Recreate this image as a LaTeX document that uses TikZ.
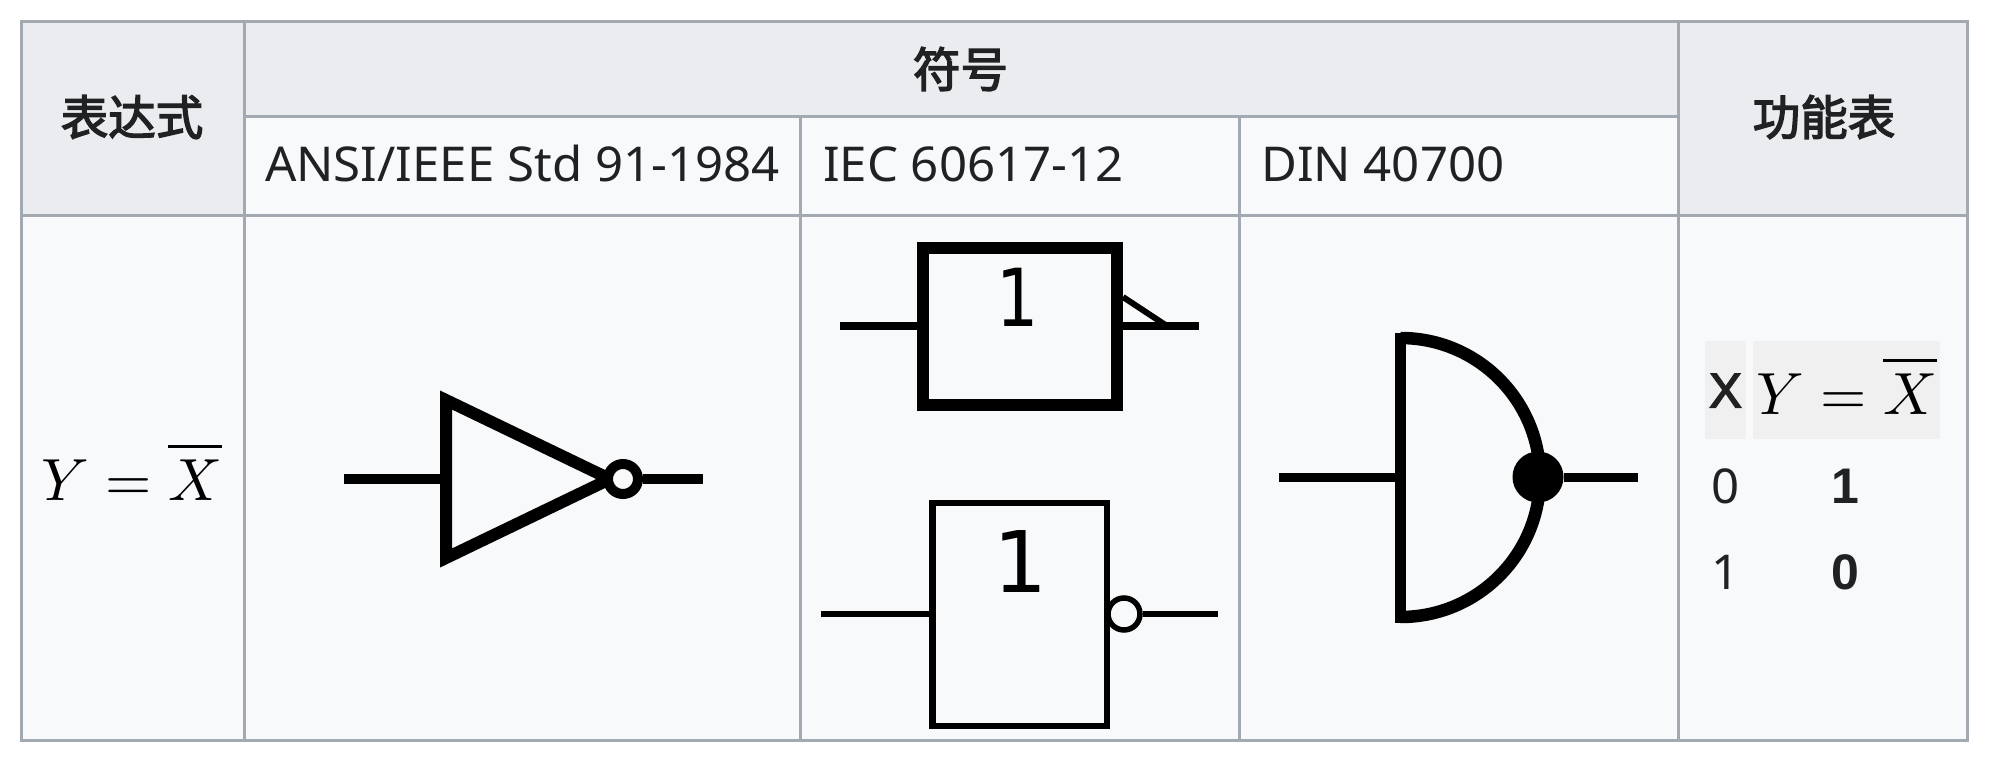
\documentclass[tikz,border=0pt]{standalone}
\usepackage{graphicx}
\usepackage{fontspec}
\setmainfont{Noto Sans}[FakeStretch=1.024]
\newfontfamily\cjk{Noto Sans CJK SC}[FakeBold=3]
\newfontfamily\djv{DejaVu Sans}
\newfontfamily\nsb{Liberation Sans Bold}
\newfontfamily\nsm{Liberation Sans}[FakeBold=3]
\newcommand{\fsz}[1]{\fontsize{#1}{#1}\selectfont}
\newcommand{\notx}{\scalebox{5.95}{$Y=\overline{X\rule{0pt}{7.6pt}}$}}
\definecolor{hd}{HTML}{EAECF0}
\definecolor{bd}{HTML}{F8F9FA}
\definecolor{bl}{HTML}{A2A9B1}
\definecolor{tx}{HTML}{202122}
\definecolor{sub}{HTML}{F0F0F0}
\tikzset{
  grid line/.style={draw=bl,line width=3pt},
  hcell/.style={font=\cjk\fsz{47.5},text=tx,inner sep=0pt,anchor=center},
  ctext/.style={font=\fsz{48},text=tx,inner sep=0pt,anchor=base west},
  vtext/.style={font=\fsz{48},text=tx,inner sep=0pt,anchor=base},
  btext/.style={font=\nsb\fsz{50},text=tx,inner sep=0pt,anchor=base},
  mathtext/.style={text=black,inner sep=0pt,anchor=base west},
  wire/.style={draw=black,line cap=butt},
  bubble/.style={circle,draw=black,fill=bd,inner sep=0pt},
  gatebox/.style={rectangle,draw=black,inner sep=0pt},
  dig/.style={font=\djv\fsz{85},text=black,inner sep=0pt,anchor=base}
}
\begin{document}
\begin{tikzpicture}[x=1pt,y=-1pt]
\useasboundingbox (0,0) rectangle (2000,763);
\fill[white] (0,0) rectangle (2000,763);
% cell backgrounds
\fill[bd] (21,21) rectangle (1967,740);
\fill[hd] (21,21) rectangle (244,215);
\fill[hd] (244,21) rectangle (1678,116);
\fill[hd] (1678,21) rectangle (1967,215);
% grid
\draw[grid line] (21,21) rectangle (1967,740);
\draw[grid line] (244,21) -- (244,740);
\draw[grid line] (1678,21) -- (1678,740);
\draw[grid line] (800.5,116) -- (800.5,740);
\draw[grid line] (1239.5,116) -- (1239.5,740);
\draw[grid line] (244,116) -- (1678,116);
\draw[grid line] (21,215) -- (1967,215);
% header text
\node[hcell] (hexpr) at (132,117) {表达式};
\node[hcell] (hsym) at (960.5,69) {符号};
\node[hcell] (hfun) at (1824,117) {功能表};
\node[ctext] (ansi) at (265,181) {ANSI/IEEE Std 91-1984};
\node[ctext] (iec) at (823,181) {IEC 60617-12};
\node[ctext] (din) at (1261,181) {DIN 40700};
% expression
\node[mathtext] (expr) at (41,500) {\notx};
% ANSI gate
\coordinate (a1) at (446,400);
\coordinate (a2) at (446,558);
\coordinate (a3) at (610,479);
\coordinate (ain) at (344,479);
\coordinate (aout) at (703,479);
\draw[line width=12pt,miter limit=10] (a1) -- (a3) -- (a2) -- cycle;
\node[bubble,line width=10pt,minimum size=30pt] (abub) at (623,479) {};
\draw[wire,line width=9.5pt] (ain) -- (446,479);
\draw[wire,line width=9.5pt] (abub.east) -- (aout);
% IEC gate 1
\node[gatebox,line width=12pt,minimum width=194.5pt,minimum height=157pt] (ib1) at (1020,326.5) {};
\coordinate (i1in) at (840,326);
\coordinate (i1out) at (1199,326);
\coordinate (i1d) at (1123,297);
\coordinate (i1e) at (1167,326);
\draw[wire,line width=8pt] (i1in) -- (i1in -| ib1.west);
\draw[wire,line width=8pt] (i1out -| ib1.east) -- (i1out);
\draw[wire,line width=6pt] (i1d) -- (i1e);
\node[dig,xscale=.83,font=\djv\fsz{80}] (d1) at (1018,326) {1};
% IEC gate 2
\node[gatebox,line width=6.5pt,minimum width=174.5pt,minimum height=223pt] (ib2) at (1019.5,614.5) {};
\coordinate (i2in) at (821,614);
\coordinate (i2out) at (1218,614);
\node[bubble,line width=5.5pt,minimum size=32pt] (ibub) at (1124,614) {};
\draw[wire,line width=6.5pt] (i2in) -- (i2in -| ib2.west);
\draw[wire,line width=6.5pt] (ibub.east) -- (i2out);
\node[dig] (d2) at (1021,592) {1};
% DIN gate
\coordinate (d1t) at (1400.5,338);
\coordinate (d1b) at (1400.5,617);
\coordinate (din1) at (1279,477);
\coordinate (dout) at (1637.5,477);
\draw[line width=12.5pt,miter limit=10] (d1t) arc[start angle=-90,end angle=90,x radius=139.5,y radius=139.5];
\draw[line width=11pt,line cap=rect] (d1b) -- (d1t);
\node[circle,fill=black,inner sep=0pt,minimum size=51pt] (dblob) at (1538,477) {};
\draw[wire,line width=9pt] (din1) -- (1400.5,477);
\draw[wire,line width=9pt] (dblob.east) -- (dout);
% function table
\fill[sub] (1705,341) rectangle (1746,439);
\fill[sub] (1753,341) rectangle (1939.5,439);
\node[font=\nsm\fsz{49},text=tx,inner sep=0pt,anchor=base] (tx) at (1725.5,407.5) {X};
\node[mathtext] (ty) at (1756,414) {\notx};
\node[vtext] (t00) at (1726,503) {0};
\node[btext] (t01) at (1845,503) {1};
\node[vtext] (t10) at (1726,589) {1};
\node[btext] (t11) at (1845,589) {0};
\end{tikzpicture}
\end{document}
